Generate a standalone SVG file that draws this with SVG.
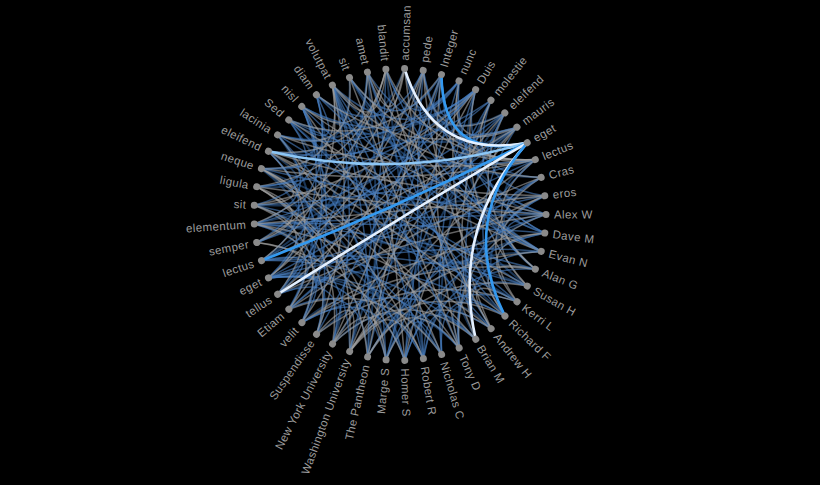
<svg xmlns="http://www.w3.org/2000/svg" xmlns:xlink="http://www.w3.org/1999/xlink" width="820" height="485" viewBox="0 0 820 485">
<style>
.bg{fill:#000}
.lk use{fill:none;stroke-width:1.5}
.lk .b{stroke:#4a7fbf;stroke-opacity:.6}
.lk .g{stroke:#a0a0a0;stroke-opacity:.62}
.lk .d{stroke:#2f5f98;stroke-opacity:.55;stroke-width:2}
.hl use{fill:none;stroke-width:2.6}
.hl .hb{stroke:#3399f0}
.hl .hl2{stroke:#8cc6f5}
.hl .hw{stroke:#e4f0ff}
.node circle{fill:#8a8a8a}
.node text{fill:#9c9c9c;font-family:"Liberation Sans",Arial,sans-serif;font-size:11.5px;letter-spacing:.4px}
</style>
<defs>
<path id="e1" d="M0,-146Q4.67,-72.7 18.67,-144.8"/>
<path id="e2" d="M0,-146Q9.26,-71.81 37.04,-141.23"/>
<path id="e3" d="M0,-146Q13.69,-70.33 54.78,-135.33"/>
<path id="e4" d="M0,-146Q17.91,-68.3 71.64,-127.21"/>
<path id="e5" d="M0,-146Q21.83,-65.75 87.32,-117"/>
<path id="e6" d="M0,-146Q25.4,-62.71 101.6,-104.84"/>
<path id="e7" d="M0,-146Q28.54,-59.26 114.14,-91.03"/>
<path id="e8" d="M0,-146Q31.21,-55.42 124.84,-75.69"/>
<path id="e9" d="M0,-146Q33.38,-51.28 133.5,-59.1"/>
<path id="e10" d="M0,-146Q34.99,-46.88 139.97,-41.54"/>
<path id="e11" d="M0,-146Q36.03,-42.33 144.13,-23.3"/>
<path id="e12" d="M0,-146Q36.48,-37.67 145.93,-4.69"/>
<path id="e13" d="M0,-146Q36.33,-33 145.33,14.02"/>
<path id="e14" d="M0,-146Q35.58,-28.38 142.34,32.49"/>
<path id="e15" d="M0,-146Q34.26,-23.89 137.02,50.43"/>
<path id="e16" d="M0,-146Q32.36,-19.62 129.44,67.53"/>
<path id="e17" d="M0,-146Q29.94,-15.62 119.78,83.51"/>
<path id="e18" d="M0,-146Q27.02,-11.96 108.08,98.16"/>
<path id="e19" d="M0,-146Q23.66,-8.71 94.64,111.18"/>
<path id="e20" d="M0,-146Q19.91,-5.91 79.64,122.36"/>
<path id="e21" d="M0,-146Q15.84,-3.61 63.35,131.55"/>
<path id="e22" d="M0,-146Q11.5,-1.86 46,138.57"/>
<path id="e23" d="M0,-146Q6.98,-0.68 27.92,143.3"/>
<path id="e24" d="M0,-146Q2.34,-0.08 9.36,145.69"/>
</defs>
<rect class="bg" width="820" height="485"/>
<g id="connectors" transform="translate(400,214.5) rotate(1.8)">
<g class="lk">
<use href="#e6" class="d" transform="rotate(0)"/>
<use href="#e8" class="d" transform="rotate(7.347)"/>
<use href="#e10" class="d" transform="rotate(14.694)"/>
<use href="#e12" class="d" transform="rotate(22.041)"/>
<use href="#e14" class="d" transform="rotate(29.388)"/>
<use href="#e17" class="d" transform="rotate(36.735)"/>
<use href="#e19" class="d" transform="rotate(44.082)"/>
<use href="#e21" class="d" transform="rotate(51.429)"/>
<use href="#e3" class="d" transform="rotate(66.122)"/>
<use href="#e5" class="d" transform="rotate(73.469)"/>
<use href="#e7" class="d" transform="rotate(80.816)"/>
<use href="#e11" class="d" transform="rotate(88.163)"/>
<use href="#e13" class="d" transform="rotate(95.51)"/>
<use href="#e15" class="d" transform="rotate(102.857)"/>
<use href="#e17" class="d" transform="rotate(110.204)"/>
<use href="#e20" class="d" transform="rotate(117.551)"/>
<use href="#e22" class="d" transform="rotate(124.898)"/>
<use href="#e24" class="d" transform="rotate(132.245)"/>
<use href="#e2" class="d" transform="rotate(139.592)"/>
<use href="#e5" class="d" transform="rotate(146.939)"/>
<use href="#e7" class="d" transform="rotate(154.286)"/>
<use href="#e11" class="d" transform="rotate(161.633)"/>
<use href="#e13" class="d" transform="rotate(168.98)"/>
<use href="#e15" class="d" transform="rotate(176.327)"/>
<use href="#e17" class="d" transform="rotate(183.673)"/>
<use href="#e21" class="d" transform="rotate(191.02)"/>
<use href="#e23" class="d" transform="rotate(198.367)"/>
<use href="#e2" class="d" transform="rotate(205.714)"/>
<use href="#e4" class="d" transform="rotate(213.061)"/>
<use href="#e9" class="d" transform="rotate(220.408)"/>
<use href="#e10" class="d" transform="rotate(227.755)"/>
<use href="#e12" class="d" transform="rotate(235.102)"/>
<use href="#e14" class="d" transform="rotate(242.449)"/>
<use href="#e16" class="d" transform="rotate(249.796)"/>
<use href="#e18" class="d" transform="rotate(257.143)"/>
<use href="#e20" class="d" transform="rotate(264.49)"/>
<use href="#e23" class="d" transform="rotate(271.837)"/>
<use href="#e2" class="d" transform="rotate(279.184)"/>
<use href="#e4" class="d" transform="rotate(286.531)"/>
<use href="#e6" class="d" transform="rotate(293.878)"/>
<use href="#e8" class="d" transform="rotate(301.224)"/>
<use href="#e11" class="d" transform="rotate(308.571)"/>
<use href="#e13" class="d" transform="rotate(315.918)"/>
<use href="#e15" class="d" transform="rotate(323.265)"/>
<use href="#e17" class="d" transform="rotate(330.612)"/>
<use href="#e19" class="d" transform="rotate(337.959)"/>
<use href="#e22" class="d" transform="rotate(345.306)"/>
<use href="#e24" class="d" transform="rotate(352.653)"/>
<g transform="rotate(0)"><use href="#e3" class="b"/><use href="#e9" class="g"/><use href="#e14" class="b"/><use href="#e20" class="g"/></g>
<g transform="rotate(7.347)"><use href="#e5" class="g"/><use href="#e11" class="b"/><use href="#e17" class="g"/><use href="#e22" class="b"/></g>
<g transform="rotate(14.694)"><use href="#e2" class="b"/><use href="#e7" class="g"/><use href="#e13" class="b"/><use href="#e19" class="g"/><use href="#e24" class="b"/></g>
<g transform="rotate(22.041)"><use href="#e4" class="g"/><use href="#e10" class="b"/><use href="#e16" class="g"/><use href="#e21" class="b"/></g>
<g transform="rotate(29.388)"><use href="#e6" class="b"/><use href="#e12" class="g"/><use href="#e18" class="b"/><use href="#e23" class="g"/></g>
<g transform="rotate(36.735)"><use href="#e4" class="g"/><use href="#e8" class="b"/><use href="#e15" class="g"/><use href="#e20" class="b"/></g>
<g transform="rotate(44.082)"><use href="#e5" class="b"/><use href="#e9" class="g"/><use href="#e14" class="b"/><use href="#e22" class="g"/></g>
<g transform="rotate(51.429)"><use href="#e2" class="g"/><use href="#e11" class="b"/><use href="#e17" class="g"/><use href="#e24" class="b"/></g>
<g transform="rotate(66.122)"><use href="#e6" class="g"/><use href="#e12" class="b"/><use href="#e18" class="g"/><use href="#e23" class="b"/></g>
<g transform="rotate(73.469)"><use href="#e3" class="b"/><use href="#e7" class="g"/><use href="#e15" class="b"/><use href="#e21" class="g"/></g>
<g transform="rotate(80.816)"><use href="#e5" class="g"/><use href="#e10" class="b"/><use href="#e16" class="g"/><use href="#e22" class="b"/></g>
<g transform="rotate(88.163)"><use href="#e2" class="b"/><use href="#e9" class="g"/><use href="#e14" class="b"/><use href="#e20" class="g"/><use href="#e24" class="b"/></g>
<g transform="rotate(95.51)"><use href="#e4" class="g"/><use href="#e11" class="b"/><use href="#e17" class="g"/><use href="#e23" class="b"/></g>
<g transform="rotate(102.857)"><use href="#e6" class="b"/><use href="#e13" class="g"/><use href="#e19" class="b"/></g>
<g transform="rotate(110.204)"><use href="#e3" class="g"/><use href="#e8" class="b"/><use href="#e15" class="g"/><use href="#e21" class="b"/></g>
<g transform="rotate(117.551)"><use href="#e5" class="b"/><use href="#e10" class="g"/><use href="#e18" class="b"/><use href="#e24" class="g"/></g>
<g transform="rotate(124.898)"><use href="#e2" class="g"/><use href="#e7" class="b"/><use href="#e12" class="g"/><use href="#e20" class="b"/></g>
<g transform="rotate(132.245)"><use href="#e4" class="b"/><use href="#e9" class="g"/><use href="#e16" class="b"/><use href="#e22" class="g"/></g>
<g transform="rotate(139.592)"><use href="#e6" class="g"/><use href="#e11" class="b"/><use href="#e17" class="g"/><use href="#e23" class="b"/></g>
<g transform="rotate(146.939)"><use href="#e3" class="b"/><use href="#e8" class="g"/><use href="#e14" class="b"/><use href="#e19" class="g"/></g>
<g transform="rotate(154.286)"><use href="#e5" class="g"/><use href="#e12" class="b"/><use href="#e18" class="g"/><use href="#e24" class="b"/></g>
<g transform="rotate(161.633)"><use href="#e2" class="b"/><use href="#e9" class="g"/><use href="#e15" class="b"/><use href="#e21" class="g"/></g>
<g transform="rotate(168.98)"><use href="#e4" class="g"/><use href="#e10" class="b"/><use href="#e16" class="g"/><use href="#e22" class="b"/></g>
<g transform="rotate(176.327)"><use href="#e6" class="b"/><use href="#e11" class="g"/><use href="#e17" class="b"/><use href="#e23" class="g"/></g>
<g transform="rotate(183.673)"><use href="#e3" class="g"/><use href="#e8" class="b"/><use href="#e13" class="g"/><use href="#e20" class="b"/></g>
<g transform="rotate(191.02)"><use href="#e5" class="b"/><use href="#e12" class="g"/><use href="#e19" class="b"/><use href="#e24" class="g"/></g>
<g transform="rotate(198.367)"><use href="#e2" class="g"/><use href="#e9" class="b"/><use href="#e14" class="g"/><use href="#e21" class="b"/></g>
<g transform="rotate(205.714)"><use href="#e4" class="b"/><use href="#e10" class="g"/><use href="#e17" class="b"/><use href="#e23" class="g"/></g>
<g transform="rotate(213.061)"><use href="#e6" class="g"/><use href="#e11" class="b"/><use href="#e16" class="g"/><use href="#e22" class="b"/></g>
<g transform="rotate(220.408)"><use href="#e3" class="b"/><use href="#e7" class="g"/><use href="#e13" class="b"/><use href="#e20" class="g"/></g>
<g transform="rotate(227.755)"><use href="#e5" class="g"/><use href="#e12" class="b"/><use href="#e18" class="g"/><use href="#e24" class="b"/></g>
<g transform="rotate(235.102)"><use href="#e2" class="b"/><use href="#e8" class="g"/><use href="#e15" class="b"/><use href="#e21" class="g"/></g>
<g transform="rotate(242.449)"><use href="#e4" class="g"/><use href="#e10" class="b"/><use href="#e17" class="g"/><use href="#e23" class="b"/></g>
<g transform="rotate(249.796)"><use href="#e6" class="b"/><use href="#e11" class="g"/><use href="#e19" class="b"/><use href="#e22" class="g"/></g>
<g transform="rotate(257.143)"><use href="#e3" class="g"/><use href="#e9" class="b"/><use href="#e14" class="g"/><use href="#e20" class="b"/></g>
<g transform="rotate(264.49)"><use href="#e5" class="b"/><use href="#e12" class="g"/><use href="#e18" class="b"/><use href="#e24" class="g"/></g>
<g transform="rotate(271.837)"><use href="#e2" class="g"/><use href="#e7" class="b"/><use href="#e16" class="g"/><use href="#e21" class="b"/></g>
<g transform="rotate(279.184)"><use href="#e4" class="b"/><use href="#e10" class="g"/><use href="#e15" class="b"/><use href="#e23" class="g"/></g>
<g transform="rotate(286.531)"><use href="#e6" class="g"/><use href="#e13" class="b"/><use href="#e19" class="g"/><use href="#e22" class="b"/></g>
<g transform="rotate(293.878)"><use href="#e3" class="b"/><use href="#e8" class="g"/><use href="#e14" class="b"/><use href="#e20" class="g"/></g>
<g transform="rotate(301.224)"><use href="#e5" class="g"/><use href="#e11" class="b"/><use href="#e17" class="g"/><use href="#e24" class="b"/></g>
<g transform="rotate(308.571)"><use href="#e2" class="b"/><use href="#e9" class="g"/><use href="#e16" class="b"/><use href="#e21" class="g"/></g>
<g transform="rotate(315.918)"><use href="#e4" class="g"/><use href="#e10" class="b"/><use href="#e18" class="g"/><use href="#e23" class="b"/></g>
<g transform="rotate(323.265)"><use href="#e6" class="b"/><use href="#e12" class="g"/><use href="#e19" class="b"/></g>
<g transform="rotate(330.612)"><use href="#e3" class="g"/><use href="#e8" class="b"/><use href="#e14" class="g"/><use href="#e22" class="b"/></g>
<g transform="rotate(337.959)"><use href="#e5" class="b"/><use href="#e12" class="g"/><use href="#e17" class="b"/><use href="#e24" class="g"/></g>
<g transform="rotate(345.306)"><use href="#e2" class="g"/><use href="#e9" class="b"/><use href="#e16" class="g"/><use href="#e21" class="b"/></g>
<g transform="rotate(352.653)"><use href="#e4" class="b"/><use href="#e10" class="g"/><use href="#e15" class="b"/><use href="#e20" class="g"/></g>
</g>
<g class="hl">
<use href="#e6" class="hb" transform="rotate(14.694)"/>
<use href="#e8" class="hw" transform="rotate(0)"/>
<use href="#e17" class="hl2" transform="rotate(293.878)"/>
<use href="#e23" class="hb" transform="rotate(249.796)"/>
<use href="#e24" class="hw" transform="rotate(58.776)"/>
<use href="#e12" class="hw" transform="rotate(58.776)"/>
<use href="#e10" class="hb" transform="rotate(58.776)"/>
</g>
</g>
<g id="nodes" transform="translate(400,214.5)">
<g id="node-accumsan" class="node" transform="rotate(-88.2)"><circle cx="146" r="3.5"/><text x="154" dy=".35em">accumsan</text></g>
<g id="node-pede" class="node" transform="rotate(-80.853)"><circle cx="146" r="3.5"/><text x="154" dy=".35em">pede</text></g>
<g id="node-integer" class="node" transform="rotate(-73.506)"><circle cx="146" r="3.5"/><text x="154" dy=".35em">Integer</text></g>
<g id="node-nunc" class="node" transform="rotate(-66.159)"><circle cx="146" r="3.5"/><text x="154" dy=".35em">nunc</text></g>
<g id="node-duis" class="node" transform="rotate(-58.812)"><circle cx="146" r="3.5"/><text x="154" dy=".35em">Duis</text></g>
<g id="node-molestie" class="node" transform="rotate(-51.465)"><circle cx="146" r="3.5"/><text x="154" dy=".35em">molestie</text></g>
<g id="node-eleifend-1" class="node" transform="rotate(-44.118)"><circle cx="146" r="3.5"/><text x="154" dy=".35em">eleifend</text></g>
<g id="node-mauris" class="node" transform="rotate(-36.771)"><circle cx="146" r="3.5"/><text x="154" dy=".35em">mauris</text></g>
<g id="node-eget-1" class="node" transform="rotate(-29.424)"><circle cx="146" r="3.5"/><text x="154" dy=".35em">eget</text></g>
<g id="node-lectus-1" class="node" transform="rotate(-22.078)"><circle cx="146" r="3.5"/><text x="154" dy=".35em">lectus</text></g>
<g id="node-cras" class="node" transform="rotate(-14.731)"><circle cx="146" r="3.5"/><text x="154" dy=".35em">Cras</text></g>
<g id="node-eros" class="node" transform="rotate(-7.384)"><circle cx="146" r="3.5"/><text x="154" dy=".35em">eros</text></g>
<g id="node-alex-w" class="node" transform="rotate(-0.037)"><circle cx="146" r="3.5"/><text x="154" dy=".35em">Alex W</text></g>
<g id="node-dave-m" class="node" transform="rotate(7.31)"><circle cx="146" r="3.5"/><text x="154" dy=".35em">Dave M</text></g>
<g id="node-evan-n" class="node" transform="rotate(14.657)"><circle cx="146" r="3.5"/><text x="154" dy=".35em">Evan N</text></g>
<g id="node-alan-g" class="node" transform="rotate(22.004)"><circle cx="146" r="3.5"/><text x="154" dy=".35em">Alan G</text></g>
<g id="node-susan-h" class="node" transform="rotate(29.351)"><circle cx="146" r="3.5"/><text x="154" dy=".35em">Susan H</text></g>
<g id="node-kerri-l" class="node" transform="rotate(36.698)"><circle cx="146" r="3.5"/><text x="154" dy=".35em">Kerri L</text></g>
<g id="node-richard-f" class="node" transform="rotate(44.045)"><circle cx="146" r="3.5"/><text x="154" dy=".35em">Richard F</text></g>
<g id="node-andrew-h" class="node" transform="rotate(51.392)"><circle cx="146" r="3.5"/><text x="154" dy=".35em">Andrew H</text></g>
<g id="node-brian-m" class="node" transform="rotate(58.739)"><circle cx="146" r="3.5"/><text x="154" dy=".35em">Brian M</text></g>
<g id="node-tony-d" class="node" transform="rotate(66.086)"><circle cx="146" r="3.5"/><text x="154" dy=".35em">Tony D</text></g>
<g id="node-nicholas-c" class="node" transform="rotate(73.433)"><circle cx="146" r="3.5"/><text x="154" dy=".35em">Nicholas C</text></g>
<g id="node-robert-r" class="node" transform="rotate(80.78)"><circle cx="146" r="3.5"/><text x="154" dy=".35em">Robert R</text></g>
<g id="node-homer-s" class="node" transform="rotate(88.127)"><circle cx="146" r="3.5"/><text x="154" dy=".35em">Homer S</text></g>
<g id="node-marge-s" class="node" transform="rotate(95.473)"><circle cx="146" r="3.5"/><text transform="translate(154) rotate(180)" text-anchor="end" dy=".35em">Marge S</text></g>
<g id="node-the-pantheon" class="node" transform="rotate(102.82)"><circle cx="146" r="3.5"/><text transform="translate(154) rotate(180)" text-anchor="end" dy=".35em">The Pantheon</text></g>
<g id="node-washington-university" class="node" transform="rotate(110.167)"><circle cx="146" r="3.5"/><text transform="translate(154) rotate(180)" text-anchor="end" dy=".35em">Washington University</text></g>
<g id="node-new-york-university" class="node" transform="rotate(117.514)"><circle cx="146" r="3.5"/><text transform="translate(154) rotate(180)" text-anchor="end" dy=".35em">New York University</text></g>
<g id="node-suspendisse" class="node" transform="rotate(124.861)"><circle cx="146" r="3.5"/><text transform="translate(154) rotate(180)" text-anchor="end" dy=".35em">Suspendisse</text></g>
<g id="node-velit" class="node" transform="rotate(132.208)"><circle cx="146" r="3.5"/><text transform="translate(154) rotate(180)" text-anchor="end" dy=".35em">velit</text></g>
<g id="node-etiam" class="node" transform="rotate(139.555)"><circle cx="146" r="3.5"/><text transform="translate(154) rotate(180)" text-anchor="end" dy=".35em">Etiam</text></g>
<g id="node-tellus" class="node" transform="rotate(146.902)"><circle cx="146" r="3.5"/><text transform="translate(154) rotate(180)" text-anchor="end" dy=".35em">tellus</text></g>
<g id="node-eget-2" class="node" transform="rotate(154.249)"><circle cx="146" r="3.5"/><text transform="translate(154) rotate(180)" text-anchor="end" dy=".35em">eget</text></g>
<g id="node-lectus-2" class="node" transform="rotate(161.596)"><circle cx="146" r="3.5"/><text transform="translate(154) rotate(180)" text-anchor="end" dy=".35em">lectus</text></g>
<g id="node-semper" class="node" transform="rotate(168.943)"><circle cx="146" r="3.5"/><text transform="translate(154) rotate(180)" text-anchor="end" dy=".35em">semper</text></g>
<g id="node-elementum" class="node" transform="rotate(176.29)"><circle cx="146" r="3.5"/><text transform="translate(154) rotate(180)" text-anchor="end" dy=".35em">elementum</text></g>
<g id="node-sit-1" class="node" transform="rotate(183.637)"><circle cx="146" r="3.5"/><text transform="translate(154) rotate(180)" text-anchor="end" dy=".35em">sit</text></g>
<g id="node-ligula" class="node" transform="rotate(190.984)"><circle cx="146" r="3.5"/><text transform="translate(154) rotate(180)" text-anchor="end" dy=".35em">ligula</text></g>
<g id="node-neque" class="node" transform="rotate(198.331)"><circle cx="146" r="3.5"/><text transform="translate(154) rotate(180)" text-anchor="end" dy=".35em">neque</text></g>
<g id="node-eleifend-2" class="node" transform="rotate(205.678)"><circle cx="146" r="3.5"/><text transform="translate(154) rotate(180)" text-anchor="end" dy=".35em">eleifend</text></g>
<g id="node-lacinia" class="node" transform="rotate(213.024)"><circle cx="146" r="3.5"/><text transform="translate(154) rotate(180)" text-anchor="end" dy=".35em">lacinia</text></g>
<g id="node-sed" class="node" transform="rotate(220.371)"><circle cx="146" r="3.5"/><text transform="translate(154) rotate(180)" text-anchor="end" dy=".35em">Sed</text></g>
<g id="node-nisl" class="node" transform="rotate(227.718)"><circle cx="146" r="3.5"/><text transform="translate(154) rotate(180)" text-anchor="end" dy=".35em">nisl</text></g>
<g id="node-diam" class="node" transform="rotate(235.065)"><circle cx="146" r="3.5"/><text transform="translate(154) rotate(180)" text-anchor="end" dy=".35em">diam</text></g>
<g id="node-volutpat" class="node" transform="rotate(242.412)"><circle cx="146" r="3.5"/><text transform="translate(154) rotate(180)" text-anchor="end" dy=".35em">volutpat</text></g>
<g id="node-sit-2" class="node" transform="rotate(249.759)"><circle cx="146" r="3.5"/><text transform="translate(154) rotate(180)" text-anchor="end" dy=".35em">sit</text></g>
<g id="node-amet" class="node" transform="rotate(257.106)"><circle cx="146" r="3.5"/><text transform="translate(154) rotate(180)" text-anchor="end" dy=".35em">amet</text></g>
<g id="node-blandit" class="node" transform="rotate(264.453)"><circle cx="146" r="3.5"/><text transform="translate(154) rotate(180)" text-anchor="end" dy=".35em">blandit</text></g>
</g>
</svg>
